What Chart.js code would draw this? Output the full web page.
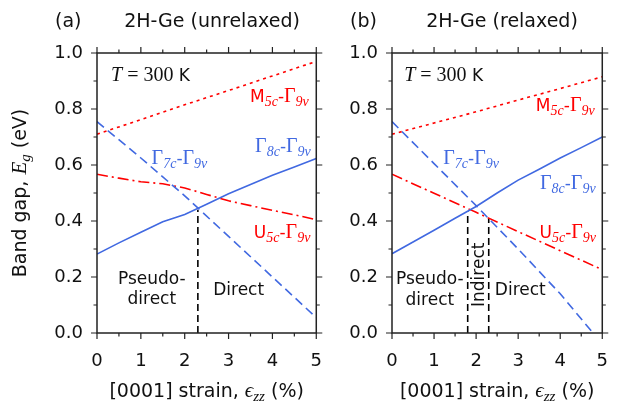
<!DOCTYPE html>
<html>
<head>
<meta charset="utf-8">
<script src="https://cdn.jsdelivr.net/npm/chart.js@4"></script>
<style>
  html, body { margin: 0; padding: 0; background: #fff; }
  #wrap { position: relative; width: 626px; height: 411px; overflow: hidden; }
  .panel { position: absolute; top: 0; height: 411px; }
</style>
</head>
<body>
<div id="wrap">
  <div class="panel" style="left:0;width:340px"><canvas id="ca" width="340" height="411"></canvas></div>
  <div class="panel" style="left:313px;width:313px"><canvas id="cb" width="313" height="411"></canvas></div>
</div>
<script>
// ---- data ----
const xTicks = [0, 1, 2, 3, 4, 5]
const xMinor = [0.5, 1.5, 2.5, 3.5, 4.5]
const yTicks = [0.0, 0.2, 0.4, 0.6, 0.8, 1.0]
const yMinor = [0.1, 0.3, 0.5, 0.7, 0.9]

// (a) unrelaxed
const strainA = [0, 1, 2, 3, 4, 5]
const strainFineA = [0, 0.5, 1, 1.5, 2, 2.5, 3, 3.5, 4, 4.5, 5]
const m5cA = [0.71, 0.762, 0.815, 0.866, 0.918, 0.97]
const g7cA = [0.755, 0.625, 0.49, 0.345, 0.2, 0.055]
const g8cA = [0.282, 0.322, 0.36, 0.397, 0.423, 0.46, 0.497, 0.53, 0.563, 0.593, 0.623]
const u5cA = [0.567, 0.553, 0.54, 0.533, 0.518, 0.495, 0.472, 0.455, 0.438, 0.422, 0.405]
const borderStrainA = [2.3]
const borderTopA = [0.44]

// (b) relaxed
const strainB = [0, 1, 2, 3, 4, 5]
const strainG7cB = [0, 1, 2, 3, 4, 4.78]
const strainFineB = [0, 0.5, 1, 1.5, 2, 2.5, 3, 3.5, 4, 4.5, 5]
const m5cB = [0.71, 0.75, 0.79, 0.832, 0.873, 0.915]
const g7cB = [0.755, 0.605, 0.455, 0.3, 0.14, 0.0]
const g8cB = [0.283, 0.325, 0.367, 0.41, 0.452, 0.5, 0.546, 0.585, 0.625, 0.662, 0.7]
const u5cB = [0.567, 0.499, 0.431, 0.362, 0.294, 0.226]
const borderStrainB = [1.8, 2.3]
const borderTopB = [0.435, 0.41]

// ---- style ----
const SANS = '"DejaVu Sans", sans-serif'
const SERIF = '"Liberation Serif", serif'
const RED = '#ff0000'
const BLUE = '#4169e1'
const AXIS = '#222222'
const BIG = 17
const SMALL = 14

const font = (fam, size, style) => `${style || ''} ${size}px ${fam}`

function pts(xs, ys) {
  return xs.map((x, i) => ({ x: x, y: ys[i] }))
}

function series(xs, ys, color, dash) {
  return {
    data: pts(xs, ys),
    borderColor: color,
    borderWidth: 1.6,
    borderDash: dash,
    pointRadius: 0,
    fill: false,
    tension: 0,
  }
}

function borders(xs, tops) {
  return xs.map((x, i) => ({
    data: [{ x: x, y: 0 }, { x: x, y: tops[i] }],
    borderColor: '#000',
    borderWidth: 1.6,
    borderDash: [7, 4],
    pointRadius: 0,
    fill: false,
  }))
}

// rich text: parts = [text, font, dy]
function drawRich(ctx, parts, x, y, align, color) {
  let w = 0
  parts.forEach(p => { ctx.font = p[1]; w += ctx.measureText(p[0]).width })
  let cx = align === 'center' ? x - w / 2 : align === 'right' ? x - w : x
  ctx.fillStyle = color
  ctx.textAlign = 'left'
  ctx.textBaseline = 'alphabetic'
  parts.forEach(p => {
    ctx.font = p[1]
    ctx.fillText(p[0], cx, y + (p[2] || 0))
    cx += ctx.measureText(p[0]).width
  })
}

function band(head, headFam, sub1, sub2) {
  return [
    [head, font(headFam, headFam === SERIF ? BIG + 3 : BIG)],
    [sub1, font(SERIF, SMALL, 'italic'), 4],
    ['-', font(SANS, BIG)],
    ['Γ', font(SERIF, BIG + 3)],
    [sub2, font(SERIF, SMALL, 'italic'), 4],
  ]
}

const tempLabel = [
  ['T', font(SERIF, BIG + 3, 'italic')],
  [' = 300', font(SERIF, BIG + 3)],
  [' K', font(SANS, BIG)],
]

// label placements, in data units
const labelsA = [
  { parts: tempLabel, x: 0.32, y: 0.922, align: 'left', color: '#111' },
  { parts: band('M', SANS, '5c', '9v'), x: 4.16, y: 0.848, align: 'center', color: RED },
  { parts: band('Γ', SERIF, '7c', '9v'), x: 1.88, y: 0.626, align: 'center', color: BLUE },
  { parts: band('Γ', SERIF, '8c', '9v'), x: 4.24, y: 0.669, align: 'center', color: BLUE },
  { parts: band('U', SANS, '5c', '9v'), x: 4.22, y: 0.362, align: 'center', color: RED },
  { parts: [['Pseudo-', font(SANS, BIG)]], x: 1.25, y: 0.198, align: 'center', color: '#111' },
  { parts: [['direct', font(SANS, BIG)]], x: 1.25, y: 0.126, align: 'center', color: '#111' },
  { parts: [['Direct', font(SANS, BIG)]], x: 3.23, y: 0.158, align: 'center', color: '#111' },
]
const labelsB = [
  { parts: tempLabel, x: 0.29, y: 0.922, align: 'left', color: '#111' },
  { parts: band('M', SANS, '5c', '9v'), x: 4.12, y: 0.815, align: 'center', color: RED },
  { parts: band('Γ', SERIF, '7c', '9v'), x: 1.88, y: 0.626, align: 'center', color: BLUE },
  { parts: band('Γ', SERIF, '8c', '9v'), x: 4.18, y: 0.537, align: 'center', color: BLUE },
  { parts: band('U', SANS, '5c', '9v'), x: 4.18, y: 0.362, align: 'center', color: RED },
  { parts: [['Pseudo-', font(SANS, BIG)]], x: 0.9, y: 0.195, align: 'center', color: '#111' },
  { parts: [['direct', font(SANS, BIG)]], x: 0.9, y: 0.123, align: 'center', color: '#111' },
  { parts: [['Indirect', font(SANS, BIG)]], x: 2.05, y: 0.208, align: 'center', color: '#111', rotate: true },
  { parts: [['Direct', font(SANS, BIG)]], x: 3.05, y: 0.158, align: 'center', color: '#111' },
]

const xTitle = [
  ['[0001] strain, ', font(SANS, BIG + 2)],
  ['ϵ', font(SERIF, BIG + 4, 'italic')],
  ['zz', font(SERIF, SMALL + 1, 'italic'), 4],
  [' (%)', font(SANS, BIG + 2)],
]
const yTitle = [
  ['Band gap, ', font(SANS, BIG + 2)],
  ['E', font(SERIF, BIG + 4, 'italic')],
  ['g', font(SERIF, SMALL + 1, 'italic'), 4],
  [' (eV)', font(SANS, BIG + 2)],
]

// frame, ticks on all four sides, labels and titles
const decor = {
  id: 'decor',
  afterDraw(chart, args, opts) {
    const ctx = chart.ctx
    const a = chart.chartArea
    const xs = chart.scales.x
    const ys = chart.scales.y
    ctx.save()
    ctx.strokeStyle = AXIS
    ctx.lineWidth = 1.5
    ctx.strokeRect(a.left, a.top, a.right - a.left, a.bottom - a.top)
    ctx.lineWidth = 1.2
    ctx.beginPath()
    const tickX = (v, len) => {
      const px = xs.getPixelForValue(v)
      ctx.moveTo(px, a.bottom); ctx.lineTo(px, a.bottom + len)
      ctx.moveTo(px, a.top); ctx.lineTo(px, a.top - len)
    }
    const tickY = (v, len) => {
      const py = ys.getPixelForValue(v)
      ctx.moveTo(a.left, py); ctx.lineTo(a.left - len, py)
      ctx.moveTo(a.right, py); ctx.lineTo(a.right + len, py)
    }
    xTicks.forEach(v => tickX(v, 6))
    xMinor.forEach(v => tickX(v, 3.5))
    yTicks.forEach(v => tickY(v, 6))
    yMinor.forEach(v => tickY(v, 3.5))
    ctx.stroke()

    opts.labels.forEach(l => {
      const px = xs.getPixelForValue(l.x)
      const py = ys.getPixelForValue(l.y)
      if (l.rotate) {
        ctx.save()
        ctx.translate(px, py)
        ctx.rotate(-Math.PI / 2)
        drawRich(ctx, l.parts, 0, 6, l.align, l.color)
        ctx.restore()
      } else {
        drawRich(ctx, l.parts, px, py + 6, l.align, l.color)
      }
    })

    const cx = (a.left + a.right) / 2
    drawRich(ctx, [[opts.tag, font(SANS, BIG + 2)]], opts.tagX, 27, 'left', '#111')
    drawRich(ctx, [[opts.title, font(SANS, BIG + 2)]], opts.titleX, 27, 'center', '#111')
    drawRich(ctx, xTitle, cx, 397, 'center', '#111')

    ctx.save()
    ctx.translate(opts.yTitleX, (a.top + a.bottom) / 2)
    ctx.rotate(-Math.PI / 2)
    drawRich(ctx, yTitle, 0, 0, 'center', '#111')
    ctx.restore()
    ctx.restore()
  },
}

function makeChart(id, datasets, yAxisWidth, rightPad, opts) {
  return new Chart(document.getElementById(id), {
    type: 'line',
    data: { datasets: datasets },
    options: {
      responsive: false,
      animation: false,
      devicePixelRatio: 1,
      layout: { padding: { top: 53, right: rightPad, left: 0, bottom: 0 } },
      plugins: { legend: { display: false }, tooltip: { enabled: false }, decor: opts },
      scales: {
        x: {
          type: 'linear',
          min: 0,
          max: 5,
          afterBuildTicks: s => { s.ticks = xTicks.map(v => ({ value: v })) },
          afterFit: s => { s.height = 78 },
          grid: { display: false, drawTicks: false },
          border: { display: false },
          ticks: { color: '#111', padding: 18, font: { family: SANS, size: BIG + 1 }, callback: v => String(v) },
        },
        y: {
          min: 0,
          max: 1,
          afterBuildTicks: s => { s.ticks = yTicks.map(v => ({ value: v })) },
          afterFit: s => { s.width = yAxisWidth },
          grid: { display: false, drawTicks: false },
          border: { display: false },
          ticks: { color: '#111', padding: 14, font: { family: SANS, size: BIG + 1 }, callback: v => v.toFixed(1) },
        },
      },
    },
    plugins: [decor],
  })
}

makeChart('ca', [
  series(strainA, m5cA, RED, [3, 4]),
  series(strainA, g7cA, BLUE, [9, 5]),
  series(strainFineA, g8cA, BLUE, []),
  series(strainFineA, u5cA, RED, [11, 4, 2, 4]),
  ...borders(borderStrainA, borderTopA),
], 97, 13, { labels: labelsA, tag: '(a)', tagX: 55, title: '2H-Ge (unrelaxed)', titleX: 212, yTitleX: 26 })

makeChart('cb', [
  series(strainB, m5cB, RED, [3, 4]),
  series(strainG7cB, g7cB, BLUE, [9, 5]),
  series(strainFineB, g8cB, BLUE, []),
  series(strainB, u5cB, RED, [11, 4, 2, 4]),
  ...borders(borderStrainB, borderTopB),
], 79, 6, { labels: labelsB, tag: '(b)', tagX: 37, title: '2H-Ge (relaxed)', titleX: 189, yTitleX: -1000 })
</script>
</body>
</html>
